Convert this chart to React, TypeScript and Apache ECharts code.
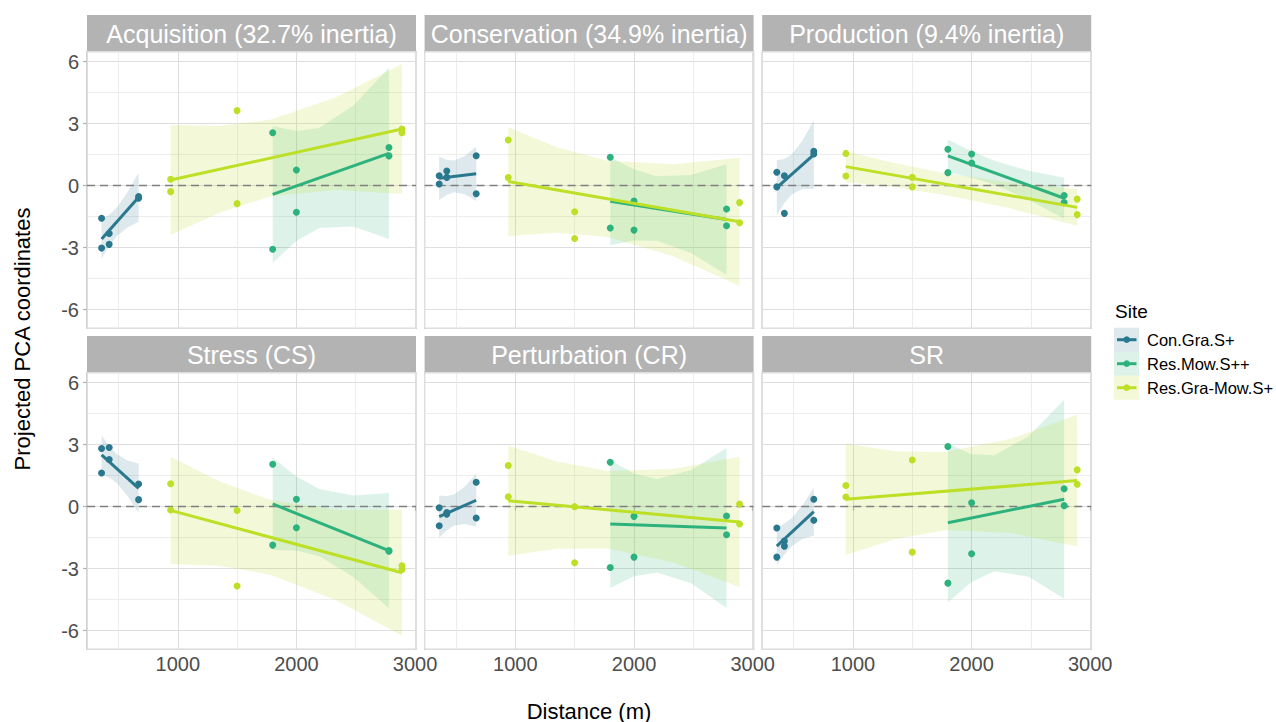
import React, { useEffect, useRef } from 'react';
import * as echarts from 'echarts';

const FONT = '"Liberation Sans", Arial, Helvetica, sans-serif';

const SITES = ['Con.Gra.S+', 'Res.Mow.S++', 'Res.Gra-Mow.S+'];
const COLORS = ['#2a788e', '#2db27d', '#bddf26'];
const BAND_FILL = ['rgba(42,120,142,0.16)', 'rgba(45,178,125,0.16)', 'rgba(189,223,38,0.18)'];

const PANEL_TITLES = [
  'Acquisition (32.7% inertia)',
  'Conservation (34.9% inertia)',
  'Production (9.4% inertia)',
  'Stress (CS)',
  'Perturbation (CR)',
  'SR',
];

// distance (m) of each observation, per site
const X_SITE = [
  [358, 358, 422, 422, 670, 670],
  [1800, 1800, 2000, 2000, 2780, 2780],
  [940, 940, 1500, 1500, 2890, 2890],
];
// distances at which the confidence band was read, per site
const X_BAND = [
  [358, 420, 483, 575, 670],
  [1800, 2000, 2193, 2480, 2780],
  [940, 1350, 1777, 2330, 2890],
];

// observed projected coordinates [Con, Mow, GraMow]
const ACQ_PTS = [
  [-1.58, -3.02, -2.31, -2.84, -0.53, -0.61],
  [2.56, -3.08, 0.76, -1.29, 1.85, 1.44],
  [0.31, -0.29, 3.63, -0.87, 2.74, 2.56],
];
const CON_PTS = [
  [0.48, 0.08, 0.71, 0.4, 1.45, -0.39],
  [1.37, -2.05, -0.74, -2.15, -1.13, -1.94],
  [2.21, 0.39, -1.26, -2.56, -0.82, -1.79],
];
const PRO_PTS = [
  [0.65, -0.06, 0.48, -1.34, 1.66, 1.53],
  [1.76, 0.63, 1.53, 1.1, -0.48, -0.82],
  [1.56, 0.47, 0.4, -0.06, -0.65, -1.4],
];
const STR_PTS = [
  [2.81, 1.63, 2.86, 2.28, 1.1, 0.34],
  [2.05, -1.86, 0.36, -1.02, -2.12, -2.16],
  [1.11, -0.16, -0.19, -3.84, -2.86, -3.04],
];
const PER_PTS = [
  [-0.05, -0.92, -0.29, -0.36, 1.18, -0.55],
  [2.15, -2.94, -0.47, -2.44, -0.45, -1.36],
  [1.99, 0.48, 0.0, -2.71, 0.13, -0.84],
];
const SR_PTS = [
  [-1.03, -2.44, -1.66, -1.91, 0.36, -0.66],
  [2.91, -3.7, 0.19, -2.28, 0.87, 0.05],
  [1.02, 0.47, 2.26, -2.2, 1.78, 1.08],
];

// fitted line: value at first and last distance of each site
const ACQ_FIT = [[-2.58, -0.56], [-0.42, 1.56], [0.27, 2.74]];
const CON_FIT = [[0.36, 0.58], [-0.75, -1.64], [0.2, -1.75]];
const PRO_FIT = [[-0.1, 1.5], [1.44, -0.61], [0.92, -1.05]];
const STR_FIT = [[2.5, 0.89], [0.13, -2.13], [-0.18, -3.2]];
const PER_FIT = [[-0.48, 0.31], [-0.84, -1.03], [0.29, -0.74]];
const SR_FIT = [[-1.91, -0.24], [-0.78, 0.36], [0.36, 1.26]];

// confidence band upper / lower at X_BAND
const ACQ_UP = [[-1.64, -1.42, -1.08, -0.33, 0.62], [2.89, 2.64, 2.79, 3.88, 5.7], [2.93, 2.89, 3.19, 4.27, 5.88]];
const ACQ_LO = [[-3.52, -2.94, -2.46, -2.02, -1.74], [-3.73, -2.68, -2.05, -1.98, -2.58], [-2.39, -1.31, -0.53, -0.21, -0.4]];
const CON_UP = [[1.41, 1.25, 1.22, 1.44, 1.9], [1.38, 0.79, 0.45, 0.52, 1.03], [2.83, 1.86, 1.2, 1.03, 1.35]];
const CON_LO = [[-0.69, -0.45, -0.32, -0.42, -0.74], [-2.88, -2.65, -2.67, -3.26, -4.31], [-2.43, -2.28, -2.48, -3.41, -4.85]];
const PRO_UP = [[1.23, 1.29, 1.51, 2.18, 3.16], [2.23, 1.66, 1.2, 0.72, 0.38], [1.67, 1.1, 0.6, 0.15, -0.16]];
const PRO_LO = [[-1.43, -0.85, -0.43, -0.16, -0.16], [0.65, 0.38, 0.04, -0.68, -1.6], [0.17, -0.08, -0.45, -1.11, -1.94]];
const STR_UP = [[3.46, 2.95, 2.56, 2.23, 2.09], [2.36, 1.46, 0.86, 0.54, 0.66], [2.41, 1.23, 0.33, -0.15, -0.15]];
const STR_LO = [[1.54, 1.41, 1.16, 0.53, -0.31], [-2.1, -2.12, -2.4, -3.4, -4.92], [-2.77, -2.86, -3.29, -4.51, -6.25]];
const PER_UP = [[0.54, 0.51, 0.59, 0.98, 1.59], [2.25, 1.61, 1.34, 1.76, 2.84], [2.96, 2.18, 1.72, 1.82, 2.41]];
const PER_LO = [[-1.5, -1.15, -0.91, -0.84, -0.97], [-3.93, -3.37, -3.18, -3.7, -4.9], [-2.38, -2.04, -2.02, -2.7, -3.89]];
const SR_UP = [[-0.98, -0.83, -0.56, 0.07, 0.92], [3.06, 2.54, 2.49, 3.41, 5.17], [3.06, 2.68, 2.64, 3.28, 4.45]];
const SR_LO = [[-2.84, -2.33, -1.92, -1.57, -1.4], [-4.62, -3.64, -3.13, -3.39, -4.45], [-2.34, -1.58, -1.14, -1.28, -1.93]];

const X_MIN = 235;
const X_MAX = 3008;
const Y_MIN = -6.9;
const Y_MAX = 6.48;

const PANELS = [
  { pts: ACQ_PTS, fit: ACQ_FIT, up: ACQ_UP, lo: ACQ_LO },
  { pts: CON_PTS, fit: CON_FIT, up: CON_UP, lo: CON_LO },
  { pts: PRO_PTS, fit: PRO_FIT, up: PRO_UP, lo: PRO_LO },
  { pts: STR_PTS, fit: STR_FIT, up: STR_UP, lo: STR_LO },
  { pts: PER_PTS, fit: PER_FIT, up: PER_UP, lo: PER_LO },
  { pts: SR_PTS, fit: SR_FIT, up: SR_UP, lo: SR_LO },
];

const COL_LEFT = [87, 424.6, 762.2];
const PANEL_W = 329;
const ROW_TOP = [51.7, 372.7];
const PANEL_H = 276.6;
const STRIP_TOP = [15, 336];

function buildOption() {
  const grid: any[] = [];
  const xAxis: any[] = [];
  const yAxis: any[] = [];
  const series: any[] = [];
  const graphic: any[] = [];

  PANELS.forEach((p, i) => {
    const col = i % 3;
    const row = Math.floor(i / 3);
    grid.push({
      left: COL_LEFT[col],
      top: ROW_TOP[row],
      width: PANEL_W,
      height: PANEL_H,
      show: true,
      backgroundColor: '#ffffff',
      borderColor: '#b3b3b3',
      borderWidth: 1.2,
      containLabel: false,
    });
    xAxis.push({
      type: 'value',
      gridIndex: i,
      min: X_MIN,
      max: X_MAX,
      splitNumber: 3,
      minInterval: 1000,
      maxInterval: 1000,
      axisLine: { show: false },
      axisTick: { show: row === 1, length: 4, lineStyle: { color: '#b3b3b3', width: 1.2 } },
      axisLabel: {
        show: row === 1,
        color: '#4d4d4d',
        fontSize: 20,
        fontFamily: FONT,
        margin: 5,
        showMinLabel: false,
        showMaxLabel: false,
        formatter: (v: number) => String(Math.round(v)),
      },
      splitLine: { show: true, lineStyle: { color: '#dedede', width: 1.1 } },
      minorTick: { show: false, splitNumber: 2 },
      minorSplitLine: { show: true, lineStyle: { color: '#e9e9e9', width: 0.8 } },
    });
    yAxis.push({
      type: 'value',
      gridIndex: i,
      min: Y_MIN,
      max: Y_MAX,
      splitNumber: 5,
      minInterval: 3,
      maxInterval: 3,
      axisLine: { show: false },
      axisTick: { show: col === 0, length: 4, lineStyle: { color: '#b3b3b3', width: 1.2 } },
      axisLabel: {
        show: col === 0,
        color: '#4d4d4d',
        fontSize: 20,
        fontFamily: FONT,
        margin: 8,
        showMinLabel: false,
        showMaxLabel: false,
        formatter: (v: number) => String(Math.round(v)),
      },
      splitLine: { show: true, lineStyle: { color: '#dedede', width: 1.1 } },
      minorTick: { show: false, splitNumber: 2 },
      minorSplitLine: { show: true, lineStyle: { color: '#e9e9e9', width: 0.8 } },
    });

    // confidence bands
    for (let s = 0; s < 3; s++) {
      const bx = X_BAND[s];
      const up = p.up[s];
      const lo = p.lo[s];
      series.push({
        type: 'custom',
        name: SITES[s] + ' band',
        xAxisIndex: i,
        yAxisIndex: i,
        silent: true,
        z: 1,
        data: [[bx[0], up[0]]],
        renderItem: (_params: any, api: any) => {
          const top = bx.map((x, k) => api.coord([x, up[k]]));
          const bot = bx.map((x, k) => api.coord([x, lo[k]])).reverse();
          return {
            type: 'polygon',
            shape: { points: top.concat(bot) },
            style: { fill: BAND_FILL[s], stroke: 'none' },
          };
        },
      });
    }

    // points
    for (let s = 0; s < 3; s++) {
      const item: any = {
        type: 'scatter',
        name: SITES[s],
        xAxisIndex: i,
        yAxisIndex: i,
        symbol: 'circle',
        symbolSize: 7,
        z: 3,
        silent: true,
        itemStyle: { color: COLORS[s], opacity: 1 },
        data: X_SITE[s].map((x, k) => [x, p.pts[s][k]]),
      };
      if (s === 0) {
        item.markLine = {
          silent: true,
          symbol: ['none', 'none'],
          label: { show: false },
          lineStyle: { color: '#7f7f7f', type: [8, 5], width: 1.3 },
          data: [{ yAxis: 0 }],
          z: 2,
        };
      }
      series.push(item);
    }

    // fitted lines
    for (let s = 0; s < 3; s++) {
      const bx = X_BAND[s];
      series.push({
        type: 'line',
        name: SITES[s] + ' fit',
        xAxisIndex: i,
        yAxisIndex: i,
        showSymbol: false,
        symbol: 'none',
        silent: true,
        z: 4,
        lineStyle: { color: COLORS[s], width: 3 },
        data: [
          [bx[0], p.fit[s][0]],
          [bx[bx.length - 1], p.fit[s][1]],
        ],
      });
    }

    // strip
    graphic.push({
      type: 'rect',
      left: COL_LEFT[col],
      top: STRIP_TOP[row],
      shape: { x: 0, y: 0, width: PANEL_W, height: ROW_TOP[row] - STRIP_TOP[row] },
      style: { fill: '#b3b3b3' },
      silent: true,
    });
    graphic.push({
      type: 'text',
      x: COL_LEFT[col] + PANEL_W / 2,
      y: (STRIP_TOP[row] + ROW_TOP[row]) / 2 + 0.5,
      silent: true,
      style: {
        text: PANEL_TITLES[i],
        fill: '#ffffff',
        fontSize: 25,
        fontFamily: FONT,
        align: 'center',
        verticalAlign: 'middle',
        textAlign: 'center',
        textVerticalAlign: 'middle',
      },
    });
  });

  // axis titles
  graphic.push({
    type: 'text',
    x: 589,
    y: 711,
    silent: true,
    style: {
      text: 'Distance (m)',
      fill: '#000000',
      fontSize: 22,
      fontFamily: FONT,
      align: 'center',
      verticalAlign: 'middle',
      textAlign: 'center',
      textVerticalAlign: 'middle',
    },
  });
  graphic.push({
    type: 'text',
    x: 22,
    y: 339,
    rotation: Math.PI / 2,
    silent: true,
    style: {
      text: 'Projected PCA coordinates',
      fill: '#000000',
      fontSize: 22,
      fontFamily: FONT,
      align: 'center',
      verticalAlign: 'middle',
      textAlign: 'center',
      textVerticalAlign: 'middle',
    },
  });

  // legend
  graphic.push({
    type: 'text',
    x: 1115,
    y: 311,
    silent: true,
    style: {
      text: 'Site',
      fill: '#000000',
      fontSize: 19,
      fontFamily: FONT,
      align: 'left',
      verticalAlign: 'middle',
      textAlign: 'left',
      textVerticalAlign: 'middle',
    },
  });
  SITES.forEach((name, s) => {
    const top = 327.7 + s * 24;
    const cy = top + 12;
    graphic.push({
      type: 'rect',
      shape: { x: 1114, y: top, width: 25, height: 24 },
      style: { fill: BAND_FILL[s] },
      silent: true,
    });
    graphic.push({
      type: 'line',
      shape: { x1: 1117, y1: cy, x2: 1136.5, y2: cy },
      style: { stroke: COLORS[s], lineWidth: 3 },
      silent: true,
    });
    graphic.push({
      type: 'circle',
      shape: { cx: 1126.7, cy, r: 3.3 },
      style: { fill: COLORS[s] },
      silent: true,
    });
    graphic.push({
      type: 'text',
      x: 1147,
      y: cy,
      silent: true,
      style: {
        text: name,
        fill: '#000000',
        fontSize: 16.5,
        fontFamily: FONT,
        align: 'left',
        verticalAlign: 'middle',
        textAlign: 'left',
        textVerticalAlign: 'middle',
      },
    });
  });

  return {
    animation: false,
    backgroundColor: '#ffffff',
    textStyle: { fontFamily: FONT },
    grid,
    xAxis,
    yAxis,
    series,
    graphic,
  };
}

export default function App() {
  const ref = useRef<HTMLDivElement>(null);
  useEffect(() => {
    document.body.style.margin = '0';
    if (!ref.current) return;
    const chart = echarts.init(ref.current, undefined, { renderer: 'svg', width: 1276, height: 722 });
    chart.setOption(buildOption() as any);
    return () => {
      chart.dispose();
    };
  }, []);
  return <div ref={ref} style={{ width: 1276, height: 722, background: '#ffffff' }} />;
}
